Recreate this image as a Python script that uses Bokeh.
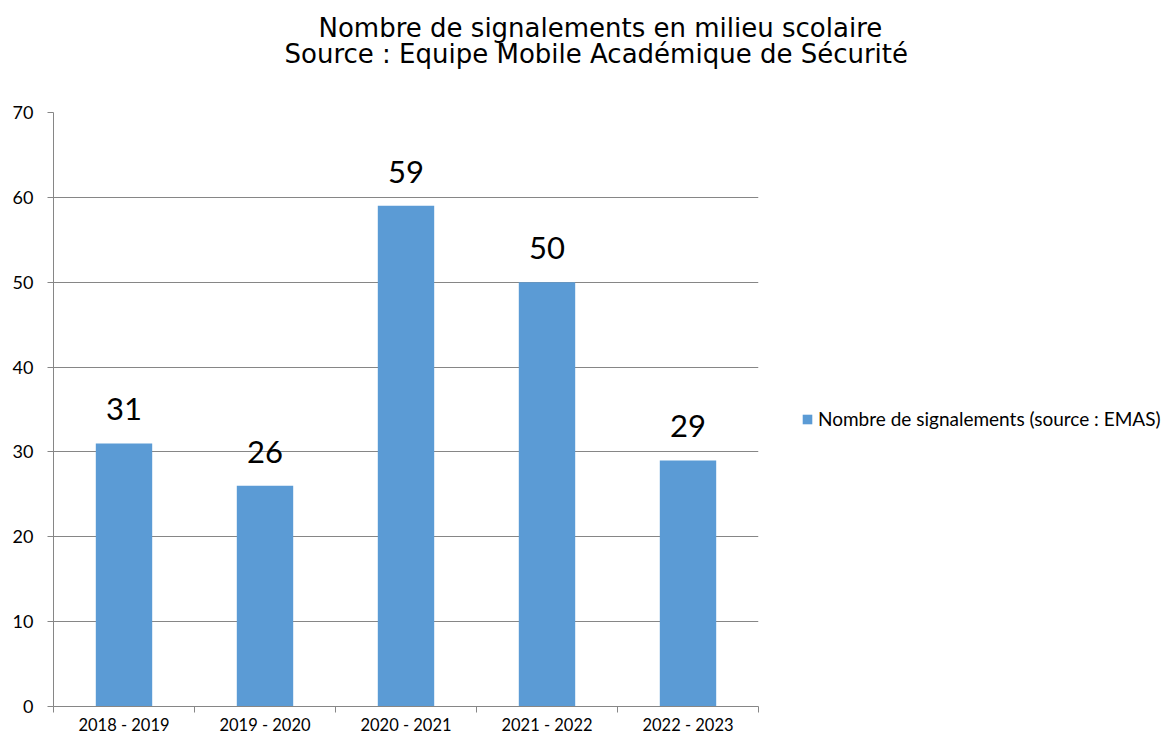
from bokeh.plotting import figure
from bokeh.models import ColumnDataSource, FixedTicker, Legend, LegendItem, Range1d, Title
from bokeh.embed import file_html
from bokeh.resources import INLINE
from bokeh.core.properties import value

categories = ["2018 - 2019", "2019 - 2020", "2020 - 2021", "2021 - 2022", "2022 - 2023"]
counts = [31, 26, 59, 50, 29]
y_ticks = [0, 10, 20, 30, 40, 50, 60, 70]
title_lines = ["Nombre de signalements en milieu scolaire",
               "Source : Equipe Mobile Académique de Sécurité"]
series_name = "Nombre de signalements (source : EMAS)"

BAR = "#5B9BD5"
GRAY = "#868686"

positions = [i + 0.5 for i in range(len(categories))]
src = ColumnDataSource(dict(x=positions, top=counts, label=[str(c) for c in counts]))

p = figure(frame_width=705, frame_height=594, output_backend="svg", toolbar_location=None,
           title=None,
           x_range=Range1d(0, len(categories)), y_range=Range1d(y_ticks[0], y_ticks[-1]),
           min_border_left=53, min_border_right=0, min_border_top=112, min_border_bottom=31)

# titles: stacked outward from the frame (spacer, line 2, line 1)
p.add_layout(Title(text=" ", text_font_size="2px", standoff=40), "above")
p.add_layout(Title(text=title_lines[1], align="left", offset=231, standoff=0,
                   text_font="DejaVu Sans", text_font_size="26px",
                   text_font_style="normal", text_color="#000000"), "above")
p.add_layout(Title(text=title_lines[0], align="left", offset=265, standoff=-12,
                   text_font="DejaVu Sans", text_font_size="26px",
                   text_font_style="normal", text_color="#000000"), "above")

p.outline_line_color = None
p.background_fill_color = "white"
p.border_fill_color = "white"

r = p.vbar(x="x", top="top", width=0.4, source=src, fill_color=BAR, line_color=None)

p.text(x="x", y="top", text="label", source=src, text_align="center",
       text_baseline="alphabetic", y_offset=-34, text_font=value("Lato"),
       text_font_size="31px", text_color="#000000")

# y axis
p.yaxis.ticker = FixedTicker(ticks=y_ticks)
p.yaxis.axis_line_color = GRAY
p.yaxis.major_tick_line_color = GRAY
p.yaxis.major_tick_out = 6
p.yaxis.major_tick_in = 0
p.yaxis.minor_tick_line_color = None
p.yaxis.major_label_text_font = "Lato"
p.yaxis.major_label_text_font_size = "18px"
p.yaxis.major_label_text_color = "#000000"
p.yaxis.major_label_standoff = 14

# x axis: labels at category centers, ticks at category boundaries
p.xaxis.ticker = FixedTicker(ticks=positions, minor_ticks=list(range(len(categories) + 1)))
p.xaxis.major_label_overrides = {pos: cat for pos, cat in zip(positions, categories)}
p.xaxis.axis_line_color = GRAY
p.xaxis.major_tick_line_color = None
p.xaxis.major_tick_out = 0
p.xaxis.major_tick_in = 0
p.xaxis.minor_tick_line_color = GRAY
p.xaxis.minor_tick_out = 6
p.xaxis.minor_tick_in = 0
p.xaxis.major_label_text_font = "Lato"
p.xaxis.major_label_text_font_size = "16.5px"
p.xaxis.major_label_text_color = "#000000"
p.xaxis.major_label_standoff = 2

p.xgrid.grid_line_color = None
p.ygrid.ticker = FixedTicker(ticks=y_ticks)
p.ygrid.grid_line_color = GRAY
p.ygrid.grid_line_width = 1

legend = Legend(items=[LegendItem(label=series_name, renderers=[r])],
                location=(0, 276), glyph_width=12, glyph_height=12,
                padding=0, margin=0, spacing=0, border_line_color=None,
                background_fill_alpha=0, label_standoff=5,
                label_text_font="Lato", label_text_font_size="19px",
                label_text_color="#000000",
                title=" ", title_location="left", title_text_font_size="2px",
                title_standoff=41)
p.add_layout(legend, "right")

open("out.html", "w").write(file_html(p, INLINE))
